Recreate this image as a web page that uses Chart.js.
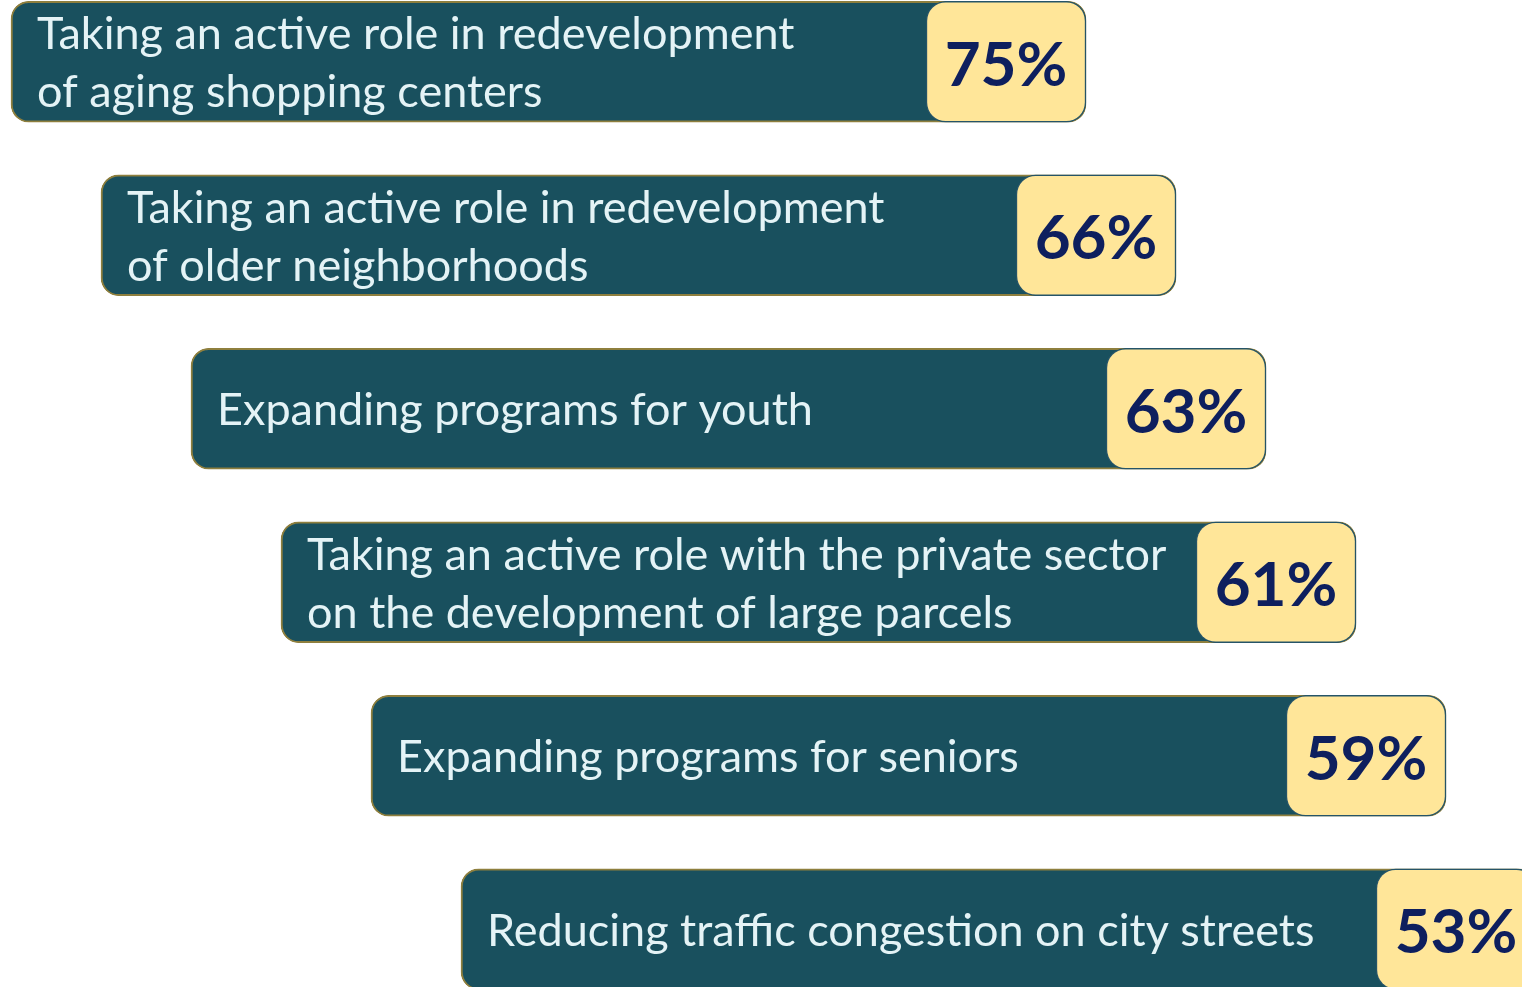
<!DOCTYPE html>
<html>
<head>
<meta charset="utf-8">
<script src="https://cdn.jsdelivr.net/npm/chart.js@4"></script>
<style>
  html, body { margin: 0; padding: 0; background: #ffffff; overflow: hidden; width: 1522px; height: 987px; }
  #wrap { position: absolute; left: 0; top: -25px; width: 1522px; height: 1041px; }
</style>
</head>
<body>
<div id="wrap"><canvas id="c"></canvas></div>
<script>
// ---- data ----
const categories = [
  ["Taking an active role in redevelopment", "of aging shopping centers"],
  ["Taking an active role in redevelopment", "of older neighborhoods"],
  ["Expanding programs for youth"],
  ["Taking an active role with the private sector", "on the development of large parcels"],
  ["Expanding programs for seniors"],
  ["Reducing traffic congestion on city streets"]
];
const percentValues = [75, 66, 63, 61, 59, 53];
const valueLabels = percentValues.map(v => v + "%");

// ---- layout (infographic: all banners same length, staggered) ----
const bannerLength = 1075;
const badgeWidth = 160;
const firstIndent = 11;
const indentStep = 90;
const starts = categories.map((_, i) => firstIndent + i * indentStep);
const bannerData = starts.map(s => [s, s + bannerLength]);
const badgeData = starts.map(s => [s + bannerLength - badgeWidth, s + bannerLength]);

const labelPlugin = {
  id: 'labels',
  afterDatasetsDraw(chart) {
    const ctx = chart.ctx;
    const banners = chart.getDatasetMeta(0).data;
    const badges = chart.getDatasetMeta(1).data;
    ctx.save();
    banners.forEach((el, i) => {
      const lines = categories[i];
      const left = el.base + 26;
      const lh = 58;
      ctx.font = '45px Lato, "Open Sans", sans-serif';
      ctx.fillStyle = '#E4F3F6';
      ctx.textAlign = 'left';
      ctx.textBaseline = 'middle';
      const top = el.y - (lines.length - 1) * lh / 2;
      lines.forEach((ln, k) => ctx.fillText(ln, left, top + k * lh + 2));
      const b = badges[i];
      ctx.font = 'bold 62px Lato, "Open Sans", sans-serif';
      ctx.fillStyle = '#0E1F5E';
      ctx.textAlign = 'center';
      ctx.fillText(valueLabels[i], (b.x + b.base) / 2, b.y + 4);
    });
    ctx.restore();
  }
};

new Chart(document.getElementById('c'), {
  type: 'bar',
  data: {
    labels: categories.map(c => c.join(' ')),
    datasets: [
      {
        data: bannerData,
        backgroundColor: '#19505E',
        borderColor: '#8E7F3E',
        borderWidth: 2,
        borderRadius: 18,
        borderSkipped: false,
        barThickness: 121,
        grouped: false,
        order: 2
      },
      {
        data: badgeData,
        backgroundColor: '#FFE699',
        borderColor: '#255468',
        borderWidth: 1.5,
        borderRadius: 20,
        borderSkipped: false,
        barThickness: 121,
        grouped: false,
        order: 1
      }
    ]
  },
  options: {
    indexAxis: 'y',
    responsive: true,
    maintainAspectRatio: false,
    animation: false,
    layout: { padding: 0 },
    plugins: { legend: { display: false }, tooltip: { enabled: false } },
    scales: {
      x: { type: 'linear', min: 0, max: 1522, display: false },
      y: { display: false, offset: true }
    }
  },
  plugins: [labelPlugin]
});
</script>
</body>
</html>
